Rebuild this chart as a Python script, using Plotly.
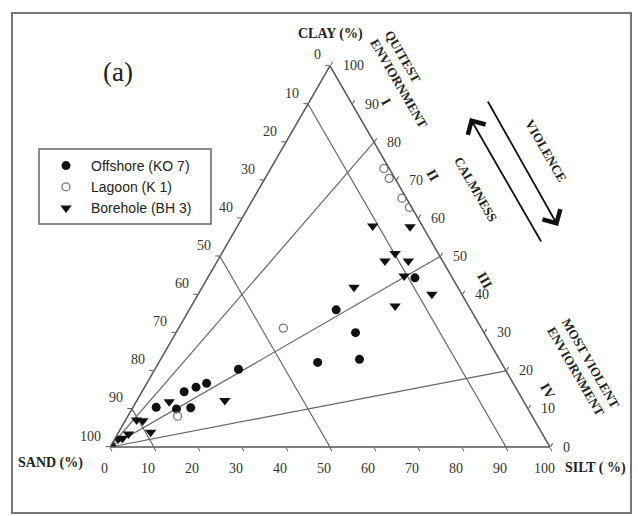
import math
import plotly.graph_objects as go

# Grain-size composition (%): clay, silt, sand
ko7_clay = [0.1, 20.4, 16.7, 15.7, 14.5, 10.4, 10.0, 10.3, 44.4, 36.0, 30.0, 22.2, 23.0]
ko7_silt = [0.3, 19.0, 13.6, 11.7, 9.6, 5.3, 10.1, 13.2, 47.1, 33.4, 40.8, 36.1, 45.2]
ko7_sand = [99.6, 60.6, 69.7, 72.6, 75.9, 84.3, 79.9, 76.5, 8.5, 30.6, 29.2, 41.7, 31.8]

k1_clay = [8.1, 31.2, 73.1, 70.5, 65.3, 62.9]
k1_silt = [11.3, 23.8, 25.7, 28.2, 33.7, 36.6]
k1_sand = [80.6, 45.0, 1.2, 1.3, 1.0, 0.5]

bh3_clay = [2.1, 2.3, 3.4, 7.1, 6.9, 3.9, 11.9, 12.2, 50.8, 48.8, 48.8, 44.9, 41.9, 40.1, 37.0, 58.0, 57.8]
bh3_silt = [0.8, 1.7, 2.5, 2.5, 4.0, 7.3, 7.5, 20.0, 39.4, 38.1, 43.4, 44.4, 34.5, 53.1, 46.3, 30.7, 39.3]
bh3_sand = [97.1, 96.0, 94.1, 90.4, 89.1, 88.8, 80.6, 67.8, 9.8, 13.1, 7.8, 10.7, 23.6, 6.8, 16.7, 11.3, 2.9]

# Pejrup diagram class boundaries
sand_levels = [90, 50, 10]          # constant sand percentage lines
clay_ratio_levels = [80, 50, 20]    # clay share of the mud fraction (sections I-IV)

# Edge tick values (0..100 every 10) and their labels
tick_vals = [0, 10, 20, 30, 40, 50, 60, 70, 80, 90, 100]
tick_labels = ["0", "10", "20", "30", "40", "50", "60", "70", "80", "90", "100"]

SERIF = "Liberation Serif"
SANS = "Liberation Sans"
LINE = "#666666"
W, H = 638, 516

# triangle placement on the page (pixels): left corner x, base y, side length
TRI_X0, TRI_BASE, TRI_SIDE = 110, 447, 440
TRI_H = TRI_SIDE * math.sqrt(3) / 2


def px(x):
    return x / W


def py(y):
    return 1 - y / H


def edge_point(clay, silt):
    """Page position (pixels) of a composition, matching the ternary subplot domain."""
    x = TRI_X0 + TRI_SIDE * (silt + clay / 2) / 100
    y = TRI_BASE - TRI_H * clay / 100
    return x, y


fig = go.Figure()

# constant-sand lines
for s in sand_levels:
    fig.add_trace(go.Scatterternary(
        a=[100 - s, 0], b=[s, s], c=[0, 100 - s], mode="lines",
        line=dict(color=LINE, width=1.2), showlegend=False, hoverinfo="skip"))

# clay/mud ratio lines radiating from the sand corner
for r in clay_ratio_levels:
    fig.add_trace(go.Scatterternary(
        a=[0, r], b=[100, 0], c=[0, 100 - r], mode="lines",
        line=dict(color=LINE, width=1.2), showlegend=False, hoverinfo="skip"))

fig.add_trace(go.Scatterternary(
    a=ko7_clay, b=ko7_sand, c=ko7_silt, mode="markers", name="Offshore (KO 7)",
    marker=dict(symbol="circle", size=9, color="#111111")))
fig.add_trace(go.Scatterternary(
    a=k1_clay, b=k1_sand, c=k1_silt, mode="markers", name="Lagoon (K 1)",
    marker=dict(symbol="circle-open", size=8, color="#777777", line=dict(width=1.3))))
fig.add_trace(go.Scatterternary(
    a=bh3_clay, b=bh3_sand, c=bh3_silt, mode="markers", name="Borehole (BH 3)",
    marker=dict(symbol="triangle-down", size=10, color="#111111")))

axis_style = dict(
    min=0, tickmode="array", tickvals=tick_vals, showticklabels=False,
    ticks="outside", ticklen=4, tickcolor="#555555", tickwidth=1,
    showgrid=False, showline=True, linecolor="#555555", linewidth=1.5,
    title=dict(text=""))

title_font = dict(family=SERIF, size=14, color="#222222", weight="bold")
side_font = dict(family=SERIF, size=13, color="#222222", weight="bold")
roman_font = dict(family=SERIF, size=14, color="#222222", weight="bold")
label_font = dict(family=SERIF, size=14, color="#333333")

annotations = []

# scale labels along the three sides
for v, lab in zip(tick_vals, tick_labels):
    # sand: left side, 0 at the clay corner
    x, y = edge_point(100 - v, 0)
    annotations.append(dict(x=px(x - 7), y=py(y - 11), text=lab, xanchor="right", font=label_font))
    # silt: bottom side
    x, y = edge_point(0, v)
    annotations.append(dict(x=px(x - 6), y=py(y + 21), text=lab, xanchor="center", font=label_font))
    # clay: right side
    x, y = edge_point(v, 100 - v)
    annotations.append(dict(x=px(x + 11), y=py(y), text=lab, xanchor="left", font=label_font))

annotations += [
    dict(x=px(330), y=py(34), text="CLAY (%)", font=title_font),
    dict(x=px(50), y=py(463), text="SAND (%)", font=title_font),
    dict(x=px(595), y=py(468), text="SILT ( %)", font=title_font),
    dict(x=px(118), y=py(72), text="(a)", font=dict(family=SERIF, size=27, color="#222222")),
    dict(x=px(406), y=py(79), text="QUITEST<br>ENVIORNMENT", textangle=60, align="left", font=side_font),
    dict(x=px(583), y=py(367), text="MOST VIOLENT<br>ENVIORNMENT", textangle=60, align="left", font=side_font),
    dict(x=px(476), y=py(189), text="CALMNESS", textangle=60, font=side_font),
    dict(x=px(546), y=py(150), text="VIOLENCE", textangle=60, font=side_font),
    dict(x=px(386), y=py(101), text="I", textangle=60, font=roman_font),
    dict(x=px(432), y=py(175), text="II", textangle=60, font=roman_font),
    dict(x=px(485), y=py(280), text="III", textangle=60, font=roman_font),
    dict(x=px(548), y=py(391), text="IV", textangle=60, font=roman_font),
]
for a in annotations:
    a.setdefault("xanchor", "center")
    a.update(xref="paper", yref="paper", showarrow=False, yanchor="middle")

# direction arrows: calmness (up-left) and violence (down-right)
annotations.append(dict(x=px(470), y=py(118), ax=542 - 470, ay=243 - 118,
                        xref="paper", yref="paper", showarrow=True, text="",
                        arrowhead=4, arrowsize=2.2, arrowwidth=1.8, arrowcolor="#111111"))
annotations.append(dict(x=px(558), y=py(226), ax=487 - 558, ay=100 - 226,
                        xref="paper", yref="paper", showarrow=True, text="",
                        arrowhead=4, arrowsize=2.2, arrowwidth=1.8, arrowcolor="#111111"))

fig.update_layout(
    width=W, height=H,
    margin=dict(l=0, r=0, t=0, b=0),
    paper_bgcolor="white",
    ternary=dict(
        sum=100,
        domain=dict(x=[px(TRI_X0), px(TRI_X0 + TRI_SIDE)],
                    y=[py(TRI_BASE), py(TRI_BASE - TRI_H)]),
        bgcolor="white",
        aaxis=axis_style, baxis=axis_style, caxis=axis_style),
    showlegend=True,
    legend=dict(x=px(41), y=py(150), xanchor="left", yanchor="top",
                bgcolor="rgba(0,0,0,0)", borderwidth=0, itemwidth=40,
                font=dict(family=SANS, size=14, color="#222222")),
    annotations=annotations,
    shapes=[
        dict(type="rect", xref="paper", yref="paper",
             x0=px(12), y0=py(513), x1=px(631), y1=py(13),
             line=dict(color="#777777", width=2)),
        # legend frame
        dict(type="rect", xref="paper", yref="paper",
             x0=px(39), y0=py(224), x1=px(211), y1=py(149),
             line=dict(color="#666666", width=1.5)),
    ],
)

fig.write_html("out.html")
